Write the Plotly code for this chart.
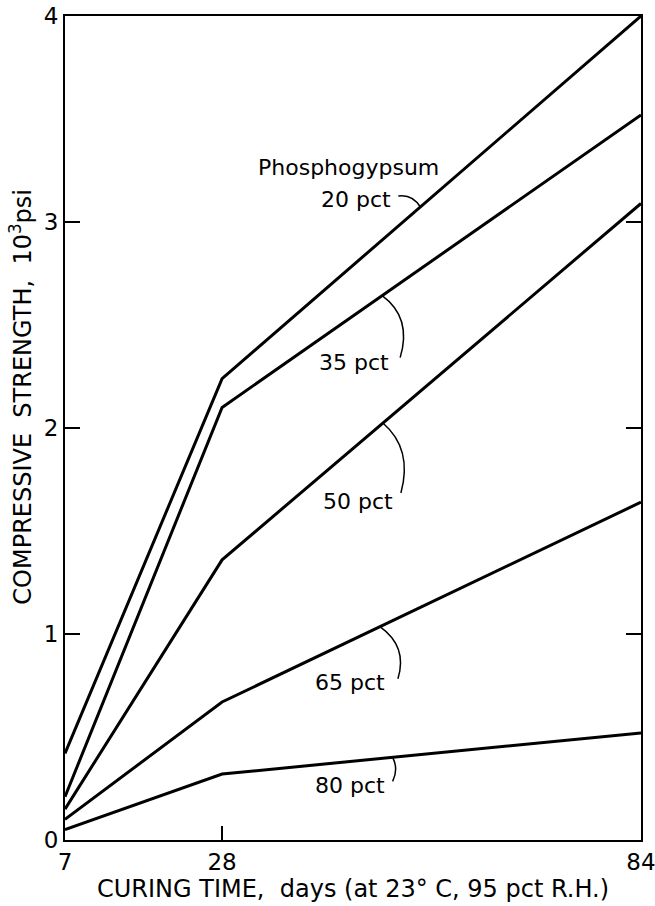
import plotly.graph_objects as go
import numpy as np

# Data
days = [7, 28, 84]
series_names = ["20 pct", "35 pct", "50 pct", "65 pct", "80 pct"]
pg20 = [0.42, 2.24, 4.00]
pg35 = [0.21, 2.10, 3.52]
pg50 = [0.15, 1.36, 3.09]
pg65 = [0.10, 0.67, 1.64]
pg80 = [0.05, 0.32, 0.52]
all_series = [pg20, pg35, pg50, pg65, pg80]

x_ticks = [7, 28, 84]
y_ticks = [0, 1, 2, 3, 4]

# label leader targets (x in days) and pixel offsets
label_x = [54.5, 49.4, 49.5, 49.1, 50.8]
label_shift = [(-64, 7), (-28, -67), (-25, -78), (-30, -56), (-43, -28)]
leader_paths = [
    "M -22,11 Q -8,13 0,0",
    "M 18,-62 Q 30,-22 0,0",
    "M 18,-70 Q 30,-26 0,0",
    "M 18,-52 Q 28,-20 0,0",
    "M 0,-24 Q 6,-12 0,0",
]

FONT = "DejaVu Sans, Verdana, sans-serif"

fig = go.Figure()
for name, ys in zip(series_names, all_series):
    fig.add_trace(go.Scatter(x=days, y=ys, mode="lines", name=name,
                             line=dict(color="black", width=3),
                             showlegend=False, hoverinfo="skip"))

for name, ys, lx, (dx, dy), p in zip(series_names, all_series, label_x, label_shift, leader_paths):
    ly = float(np.interp(lx, days, ys))
    fig.add_annotation(x=lx, y=ly, text=name, showarrow=False,
                       xshift=dx, yshift=dy,
                       font=dict(family=FONT, size=22, color="black"))
    fig.add_shape(type="path", xref="x", yref="y", xsizemode="pixel", ysizemode="pixel",
                  xanchor=lx, yanchor=ly, path=p,
                  line=dict(color="black", width=1.5))

# Phosphogypsum header above 20 pct
ly20 = float(np.interp(label_x[0], days, pg20))
fig.add_annotation(x=label_x[0], y=ly20, text="Phosphogypsum", showarrow=False,
                   xshift=-72, yshift=39,
                   font=dict(family=FONT, size=22, color="black"))

# y-axis title (placed as annotation to match original position)
fig.add_annotation(xref="paper", yref="paper", x=0, y=0.538, xshift=-44,
                   text="COMPRESSIVE  STRENGTH,  10<sup>3</sup>psi", textangle=-90,
                   showarrow=False, xanchor="center", yanchor="middle",
                   font=dict(family=FONT, size=24, color="black"))

fig.update_layout(
    width=655, height=906,
    margin=dict(l=65, r=14, t=16, b=66),
    paper_bgcolor="white", plot_bgcolor="white",
    font=dict(family=FONT, color="black"),
)
fig.update_xaxes(range=[7, 84], tickvals=x_ticks, ticktext=[str(v) for v in x_ticks],
                 ticks="inside", ticklen=14, tickwidth=1.5, tickcolor="black",
                 showline=True, linecolor="black", linewidth=2, mirror=True,
                 showgrid=False, zeroline=False, ticklabeloverflow="allow",
                 automargin=False,
                 tickfont=dict(size=23, family=FONT),
                 title=dict(text="CURING TIME,  days (at 23° C, 95 pct R.H.)",
                            font=dict(size=24, family=FONT), standoff=0))
fig.update_yaxes(range=[0, 4], tickvals=y_ticks, ticktext=[str(v) for v in y_ticks],
                 ticks="inside", ticklen=15, tickwidth=1.5, tickcolor="black",
                 showline=True, linecolor="black", linewidth=2, mirror="ticks",
                 showgrid=False, zeroline=False, automargin=False,
                 tickfont=dict(size=23, family=FONT))

fig.write_html("out.html")
